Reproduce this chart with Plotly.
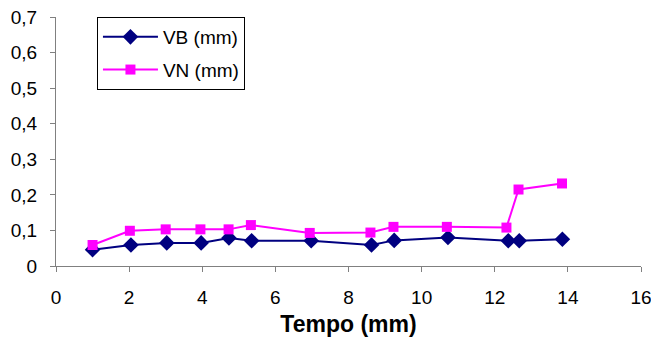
import plotly.graph_objects as go

tempo_vb = [1.0, 2.05, 3.03, 3.97, 4.73, 5.35, 6.98, 8.63, 9.25, 10.72, 12.37, 12.67, 13.85]
vb = [0.046, 0.059, 0.065, 0.065, 0.079, 0.071, 0.071, 0.059, 0.072, 0.080, 0.071, 0.071, 0.075]
tempo_vn = [1.0, 2.02, 3.0, 3.95, 4.72, 5.33, 6.94, 8.6, 9.23, 10.69, 12.32, 12.65, 13.84]
vn = [0.059, 0.099, 0.103, 0.103, 0.103, 0.115, 0.093, 0.094, 0.110, 0.110, 0.108, 0.215, 0.232]

FONT = "Arial, Liberation Sans, sans-serif"

fig = go.Figure()
fig.add_trace(go.Scatter(
    x=tempo_vb, y=vb, name="VB (mm)", mode="lines+markers", legendgroup="a",
    line=dict(color="#000080", width=2),
    marker=dict(symbol="diamond", size=12, color="#000080"),
))
fig.add_trace(go.Scatter(
    x=tempo_vn, y=vn, name="VN (mm)", mode="lines+markers", legendgroup="b",
    line=dict(color="#FF00FF", width=2),
    marker=dict(symbol="square", size=10, color="#FF00FF"),
))

axis_common = dict(
    showgrid=False, zeroline=False, showline=True, linecolor="#808080", linewidth=1,
    ticks="outside", ticklen=5, tickcolor="#808080",
    tickfont=dict(family=FONT, size=19, color="black"),
)
fig.update_xaxes(range=[0, 16], dtick=2, tick0=0, ticklabelstandoff=9, ticklabeloverflow="allow",
                 title=dict(text="<b>Tempo (mm)</b>", font=dict(family=FONT, size=23, color="black"), standoff=9),
                 **axis_common)
fig.update_yaxes(range=[0, 0.7], dtick=0.1, tick0=0, ticklabelstandoff=9, ticklabeloverflow="allow",
                 **axis_common)

fig.update_layout(
    width=651, height=347,
    margin=dict(l=56, r=10, t=17, b=81, autoexpand=False),
    plot_bgcolor="white", paper_bgcolor="white",
    separators=",.",
    legend=dict(
        x=0.07, y=1.0, xanchor="left", yanchor="top",
        bordercolor="black", borderwidth=1, bgcolor="white",
        font=dict(family=FONT, size=19, color="black"),
        tracegroupgap=5, traceorder="grouped",
        itemwidth=55,
    ),
)

fig.write_html("out.html")
